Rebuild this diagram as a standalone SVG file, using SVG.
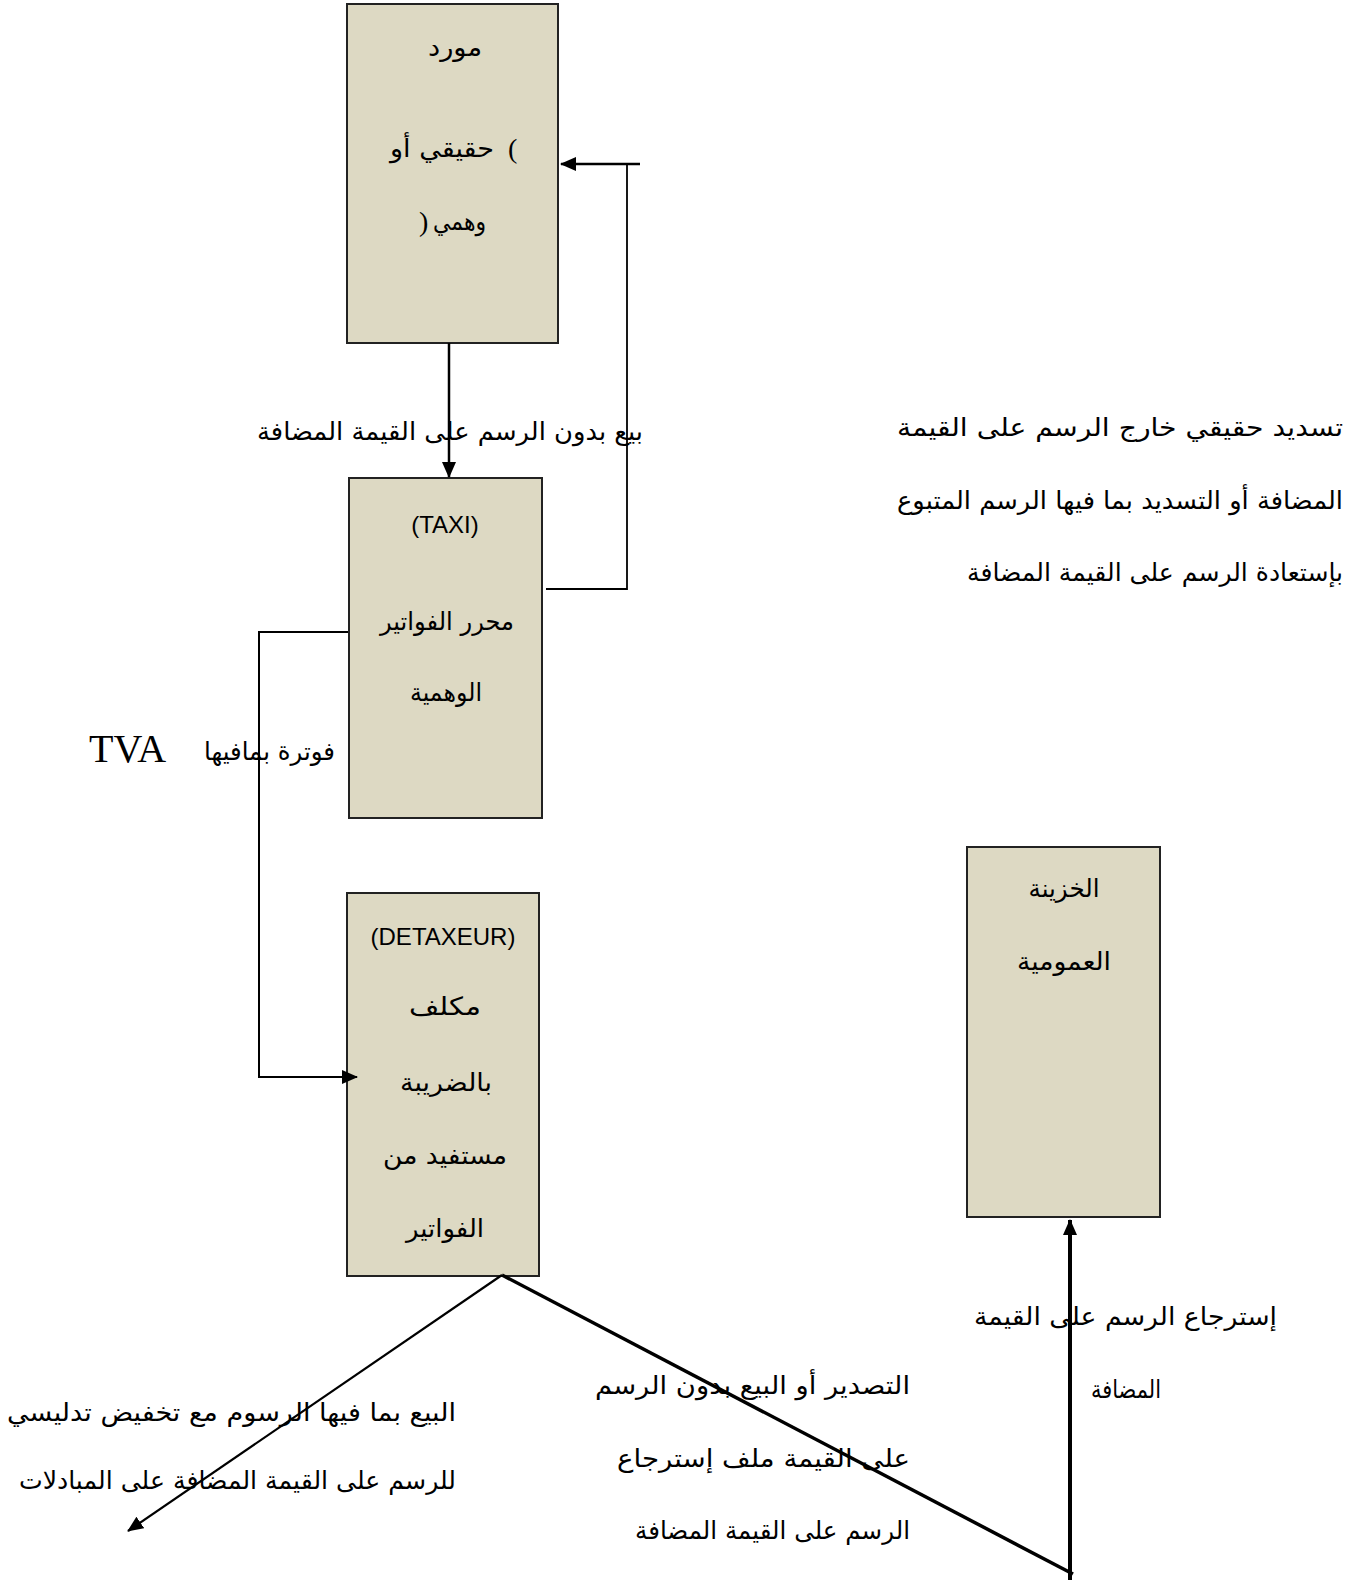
<svg xmlns="http://www.w3.org/2000/svg" width="1355" height="1580" viewBox="0 0 1355 1580">
<style>
.box{fill:#ddd9c3;stroke:#222;stroke-width:2}
.ar{font-family:"DejaVu Sans","Noto Sans",sans-serif;font-size:25px;fill:#000}
.lat{font-family:"Liberation Sans",Arial,sans-serif;font-size:24px;fill:#000}
.par{font-family:"Liberation Serif","Times New Roman",serif;font-size:28px;fill:#000}
.c{text-anchor:middle}
.e{text-anchor:end}
.ln{fill:none;stroke:#000}
</style>
<defs>
<marker id="ah" markerUnits="userSpaceOnUse" markerWidth="16" markerHeight="14" refX="15" refY="7" orient="auto">
<path d="M0,0 L16,7 L0,14 Z" fill="#000"/>
</marker>
</defs>
<rect width="1355" height="1580" fill="#fff"/>
<g id="node-supplier">
<rect class="box" x="347" y="4" width="211" height="339"/>
<text class="ar c" x="455" y="56" textLength="54" lengthAdjust="spacingAndGlyphs">مورد</text>
<text class="ar e" x="494" y="157" textLength="104" lengthAdjust="spacingAndGlyphs">حقيقي أو</text>
<text class="par" x="508" y="158">(</text>
<text class="ar e" x="486" y="230" textLength="53" lengthAdjust="spacingAndGlyphs">وهمي</text>
<text class="par" x="419" y="231">)</text>
</g>
<g id="node-taxi">
<rect class="box" x="349" y="478" width="193" height="340"/>
<text class="lat c" x="445" y="533">(TAXI)</text>
<text class="ar c" x="447" y="630" textLength="134" lengthAdjust="spacingAndGlyphs">محرر الفواتير</text>
<text class="ar c" x="446" y="701" textLength="72" lengthAdjust="spacingAndGlyphs">الوهمية</text>
</g>
<g id="node-detaxeur">
<rect class="box" x="347" y="893" width="192" height="383"/>
<text class="lat c" x="443" y="945">(DETAXEUR)</text>
<text class="ar c" x="445" y="1015" textLength="72" lengthAdjust="spacingAndGlyphs">مكلف</text>
<text class="ar c" x="446" y="1091" textLength="92" lengthAdjust="spacingAndGlyphs">بالضريبة</text>
<text class="ar c" x="445" y="1164" textLength="124" lengthAdjust="spacingAndGlyphs">مستفيد من</text>
<text class="ar c" x="445" y="1237" textLength="78" lengthAdjust="spacingAndGlyphs">الفواتير</text>
</g>
<g id="node-treasury">
<rect class="box" x="967" y="847" width="193" height="370"/>
<text class="ar c" x="1064" y="897" textLength="71" lengthAdjust="spacingAndGlyphs">الخزينة</text>
<text class="ar c" x="1064" y="970" textLength="94" lengthAdjust="spacingAndGlyphs">العمومية</text>
</g>
<g id="connectors">
<line class="ln" x1="449" y1="343" x2="449" y2="477" stroke-width="2.5" marker-end="url(#ah)"/>
<polyline class="ln" points="546,589 627,589 627,164" stroke-width="1.8"/>
<line class="ln" x1="640" y1="164" x2="561" y2="164" stroke-width="2.5" marker-end="url(#ah)"/>
<polyline class="ln" points="348,632 259,632 259,1077 357,1077" stroke-width="2" marker-end="url(#ah)"/>
<line class="ln" x1="502" y1="1275" x2="128" y2="1531" stroke-width="2.2" marker-end="url(#ah)"/>
<line class="ln" x1="502" y1="1275" x2="1073" y2="1574" stroke-width="3.5"/>
<line class="ln" x1="1070" y1="1580" x2="1070" y2="1220" stroke-width="4" marker-end="url(#ah)"/>
</g>
<g id="labels">
<text class="ar c" x="450" y="440" textLength="386" lengthAdjust="spacingAndGlyphs">بيع بدون الرسم على القيمة المضافة</text>
<text class="ar e" x="1343" y="436" textLength="446" lengthAdjust="spacingAndGlyphs">تسديد حقيقي خارج الرسم على القيمة</text>
<text class="ar e" x="1343" y="509" textLength="446" lengthAdjust="spacingAndGlyphs">المضافة أو التسديد بما فيها الرسم المتبوع</text>
<text class="ar e" x="1343" y="581" textLength="376" lengthAdjust="spacingAndGlyphs">بإستعادة الرسم على القيمة المضافة</text>
<text class="ar e" x="335" y="760" textLength="131" lengthAdjust="spacingAndGlyphs">فوترة بمافيها</text>
<text x="89" y="762" font-family="Liberation Serif,'Times New Roman',serif" font-size="40">TVA</text>
<text class="ar e" x="1277" y="1325" textLength="303" lengthAdjust="spacingAndGlyphs">إسترجاع الرسم على القيمة</text>
<text class="ar c" x="1126" y="1398" textLength="70" lengthAdjust="spacingAndGlyphs">المضافة</text>
<text class="ar e" x="456" y="1421" textLength="449" lengthAdjust="spacingAndGlyphs">البيع بما فيها الرسوم مع تخفيض تدليسي</text>
<text class="ar e" x="456" y="1489" textLength="437" lengthAdjust="spacingAndGlyphs">للرسم على القيمة المضافة على المبادلات</text>
<text class="ar e" x="910" y="1394" textLength="315" lengthAdjust="spacingAndGlyphs">التصدير أو البيع بدون الرسم</text>
<text class="ar e" x="910" y="1467" textLength="293" lengthAdjust="spacingAndGlyphs">على القيمة ملف إسترجاع</text>
<text class="ar e" x="910" y="1539" textLength="275" lengthAdjust="spacingAndGlyphs">الرسم على القيمة المضافة</text>
</g>
</svg>
